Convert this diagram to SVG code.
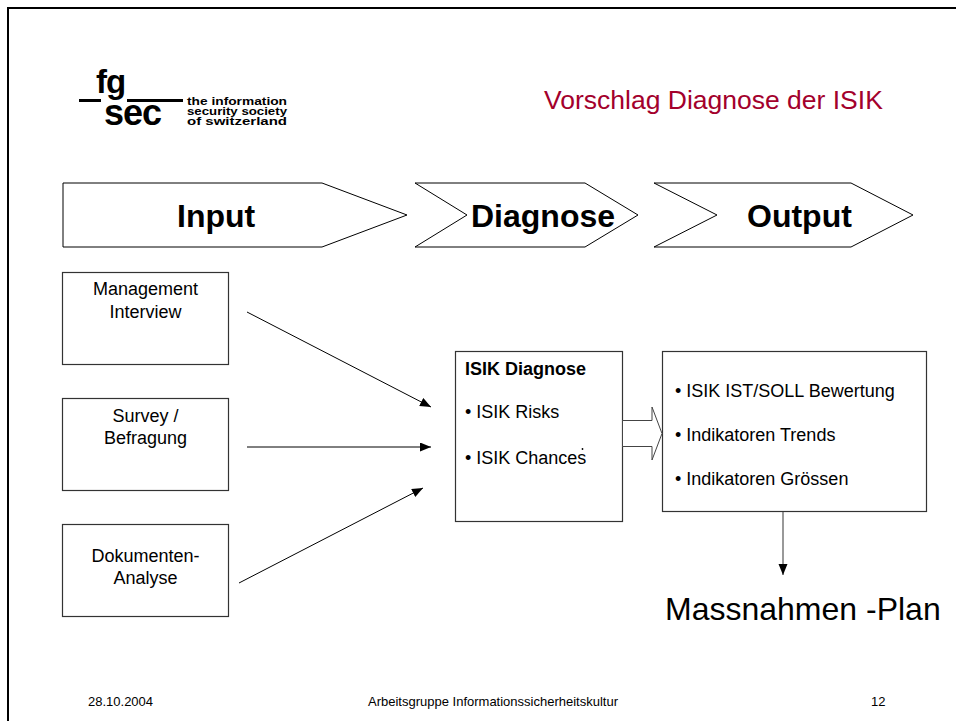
<svg xmlns="http://www.w3.org/2000/svg" width="956" height="721" viewBox="0 0 956 721">
<style>
.t{font-family:"Liberation Sans",Arial,sans-serif;fill:#000}
.box{fill:#fff;stroke:#333;stroke-width:1.2}
.chev{fill:#fff;stroke:#000;stroke-width:1}
.head{font-family:"Liberation Sans",Arial,sans-serif;font-weight:bold;font-size:32px}
.body{font-size:18px}
.foot{font-size:13px}
.small{font-weight:bold;font-size:10px}
.conn{stroke:#000;stroke-width:1;fill:none}
</style>
<defs>
<marker id="ah" markerUnits="userSpaceOnUse" markerWidth="12" markerHeight="10" refX="11" refY="4.5" orient="auto">
<path d="M0,0 L11,4.5 L0,9 z" fill="#000"/>
</marker>
</defs>
<rect width="956" height="721" fill="#fff"/>
<path d="M8,721 V8 H956" fill="none" stroke="#000" stroke-width="2"/>

<g id="logo">
<rect x="79" y="99" width="22" height="3" fill="#000"/>
<rect x="127" y="99" width="56" height="3" fill="#000"/>
<text x="96" y="93" class="t" font-weight="bold" font-size="33" letter-spacing="-1">fg</text>
<text x="104" y="125" class="t" font-weight="bold" font-size="36" letter-spacing="-1">sec</text>
<text x="187" y="105" class="t small" textLength="100" lengthAdjust="spacingAndGlyphs">the information</text>
<text x="187" y="115" class="t small" textLength="100" lengthAdjust="spacingAndGlyphs">security society</text>
<text x="187" y="125" class="t small" textLength="100" lengthAdjust="spacingAndGlyphs">of switzerland</text>
</g>

<g id="title">
<text x="544" y="109" font-family="Liberation Sans,Arial,sans-serif" font-size="26.5" fill="#A3002C">Vorschlag Diagnose der ISIK</text>
</g>

<g id="phase-input">
<polygon class="chev" points="63,183 322,183 407,215 322,247 63,247"/>
<text x="177" y="227" class="t head">Input</text>
</g>
<g id="phase-diagnose">
<polygon class="chev" points="415,183 585,183 638,215 585,247 415,247 467,215"/>
<text x="471" y="227" class="t head">Diagnose</text>
</g>
<g id="phase-output">
<polygon class="chev" points="654,183 851,183 913,215 851,247 654,247 717,215"/>
<text x="747" y="227" class="t head">Output</text>
</g>

<g id="node-management">
<rect class="box" x="62.5" y="272.5" width="166" height="92"/>
<text x="145.5" y="295" class="t body" text-anchor="middle">Management</text>
<text x="145.5" y="318" class="t body" text-anchor="middle">Interview</text>
</g>
<g id="node-survey">
<rect class="box" x="62.5" y="398.5" width="166" height="92"/>
<text x="145.5" y="422" class="t body" text-anchor="middle">Survey /</text>
<text x="145.5" y="444" class="t body" text-anchor="middle">Befragung</text>
</g>
<g id="node-dokumente">
<rect class="box" x="62.5" y="524.5" width="166" height="92"/>
<text x="145.5" y="562" class="t body" text-anchor="middle">Dokumenten-</text>
<text x="145.5" y="584" class="t body" text-anchor="middle">Analyse</text>
</g>

<g id="node-diagnose">
<rect class="box" x="455.5" y="351.5" width="167" height="170"/>
<text x="465" y="375" class="t body" font-weight="bold">ISIK Diagnose</text>
<text x="465" y="418" class="t body">• ISIK Risks</text>
<text x="465" y="464" class="t body">• ISIK Chances</text>
<circle cx="582.5" cy="449" r="0.9" fill="#000"/>
</g>

<g id="node-output">
<rect class="box" x="662.5" y="351.5" width="264" height="160"/>
<text x="675" y="397" class="t body">• ISIK IST/SOLL Bewertung</text>
<text x="675" y="441" class="t body">• Indikatoren Trends</text>
<text x="675" y="485" class="t body">• Indikatoren Grössen</text>
</g>

<g id="node-massnahmen">
<text x="665" y="620" class="t" font-size="32">Massnahmen -Plan</text>
</g>

<g id="connectors">
<line class="conn" x1="247" y1="312" x2="431" y2="407" marker-end="url(#ah)"/>
<line class="conn" x1="247" y1="447" x2="431" y2="447" marker-end="url(#ah)"/>
<line class="conn" x1="239" y1="583" x2="423" y2="488" marker-end="url(#ah)"/>
<polygon points="622.5,420.5 652,420.5 652,407 662,433.5 652,460 652,446.5 622.5,446.5" fill="#fff" stroke="#444" stroke-width="1"/>
<line x1="783" y1="512" x2="783" y2="575" stroke="#555" stroke-width="1.2" marker-end="url(#ah)"/>
</g>

<g id="footer">
<text x="88" y="706" class="t foot">28.10.2004</text>
<text x="493" y="706" class="t foot" text-anchor="middle">Arbeitsgruppe Informationssicherheitskultur</text>
<text x="871" y="706" class="t foot">12</text>
</g>
</svg>
